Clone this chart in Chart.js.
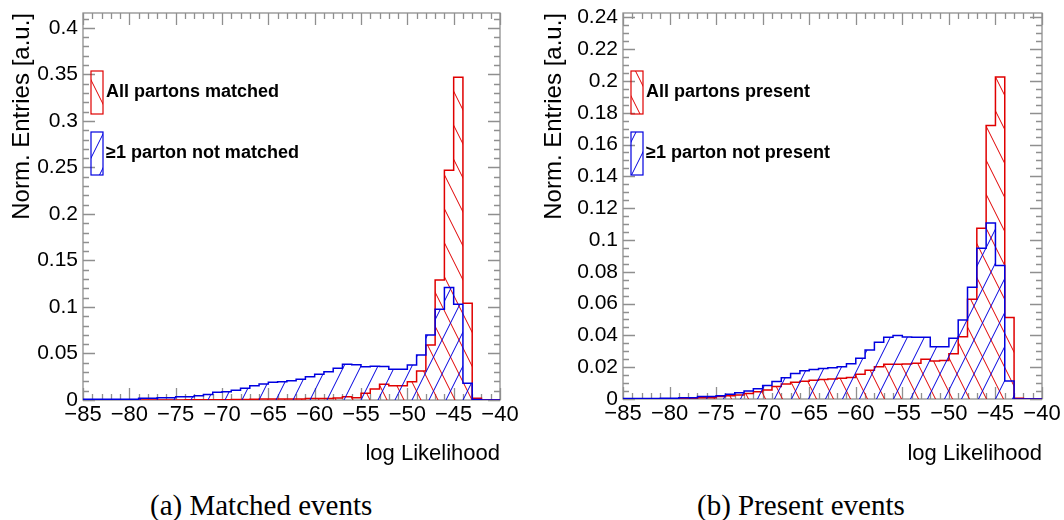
<!doctype html>
<html>
<head>
<meta charset="utf-8">
<script src="https://cdn.jsdelivr.net/npm/chart.js@4.4.1/dist/chart.umd.min.js"></script>
<style>
body { margin: 0; background: #fff; width: 1064px; height: 520px; position: relative; overflow: hidden; }
.panel { position: absolute; top: 0; width: 532px; height: 470px; }
.caption { position: absolute; font-family: "Liberation Serif", serif; font-size: 29px; line-height: 29px; white-space: nowrap; color: #000; }
</style>
</head>
<body>
<canvas id="chartA" class="panel" width="532" height="470" style="left:0px"></canvas>
<canvas id="chartB" class="panel" width="532" height="470" style="left:532px"></canvas>
<div class="caption" style="left:150px;top:491px">(a) Matched events</div>
<div class="caption" style="left:697px;top:491px">(b) Present events</div>
<script>
// histogram bin edges (log likelihood), 45 bins of width 1
const binEdges = [-85,-84,-83,-82,-81,-80,-79,-78,-77,-76,-75,-74,-73,-72,-71,-70,-69,-68,-67,-66,-65,-64,-63,-62,-61,
                  -60,-59,-58,-57,-56,-55,-54,-53,-52,-51,-50,-49,-48,-47,-46,-45,-44,-43,-42,-41,-40];

// (a) matched events
const matchedAll = [0,0,0,0,0,0,0,0,0,0,
                    0,0.0002,0.0002,0.0003,0.0003,0.0004,0.0005,0.0006,0.0008,0.001,
                    0.001,0.001,0.001,0.0012,0.0015,0.0015,0.0017,0.0022,0.0035,0.0025,
                    0.0072,0.0118,0.0168,0.0154,0.0154,0.0197,0.0312,0.0591,0.129,0.247,
                    0.347,0.104,0.002,0,0];
const matchedNot = [0.0007,0.0007,0.0007,0.0007,0.0007,0.0007,0.0018,0.0018,0.0025,0.0025,
                    0.0036,0.0036,0.0047,0.006,0.0082,0.009,0.0104,0.0125,0.0154,0.0172,
                    0.019,0.0197,0.0208,0.0222,0.0251,0.0276,0.0305,0.034,0.0383,0.0378,
                    0.0358,0.0362,0.036,0.033,0.033,0.0376,0.0484,0.0699,0.0975,0.121,
                    0.1029,0.018,0.0005,0,0];

// (b) present events
const presentAll = [0.0001,0.0001,0.0001,0.0001,0.0001,0.0001,0.0004,0.0004,0.0008,0.0008,
                    0.0015,0.002,0.0025,0.0035,0.0046,0.0057,0.0078,0.0095,0.0105,0.0112,
                    0.0118,0.0122,0.0125,0.013,0.0135,0.0155,0.018,0.0203,0.0218,0.0218,
                    0.022,0.0225,0.025,0.0239,0.0242,0.0285,0.0392,0.0627,0.1074,0.172,
                    0.2024,0.0513,0.0004,0,0];
const presentNot = [0.0003,0.0003,0.0003,0.0003,0.0005,0.0005,0.0008,0.0008,0.0015,0.0015,
                    0.002,0.003,0.004,0.005,0.0064,0.0085,0.011,0.0133,0.016,0.0177,
                    0.0185,0.0191,0.0197,0.0202,0.0222,0.0256,0.0308,0.0357,0.0388,0.04,
                    0.039,0.0388,0.0388,0.0329,0.0329,0.0382,0.0497,0.0703,0.0948,0.1106,
                    0.0839,0.0113,0,0,0];

// tick values
const xTickValues = [-85,-80,-75,-70,-65,-60,-55,-50,-45,-40];
const yTicksA = [0,0.05,0.1,0.15,0.2,0.25,0.3,0.35,0.4];
const yTicksB = [0,0.02,0.04,0.06,0.08,0.1,0.12,0.14,0.16,0.18,0.2,0.22,0.24];

const RED = '#e00000';
const BLUE = '#0000e0';

// hatch pattern, dir '/' or '\'
function makeHatch(color, dir) {
  const w = 17, h = 34;
  const c = document.createElement('canvas');
  c.width = w; c.height = h;
  const g = c.getContext('2d');
  g.strokeStyle = color;
  g.lineWidth = 1;
  g.beginPath();
  for (let k = -1; k <= 1; k++) {
    if (dir === '/') { g.moveTo(k * w, h); g.lineTo(k * w + w, 0); }
    else { g.moveTo(k * w, 0); g.lineTo(k * w + w, h); }
  }
  g.stroke();
  return g.createPattern(c, 'repeat');
}

// one point per lower bin edge, plus the closing upper edge
function toSteps(vals) {
  const pts = vals.map((v, i) => ({ x: binEdges[i], y: v }));
  pts.push({ x: binEdges[vals.length], y: vals[vals.length - 1] });
  return pts;
}

function fmt(v) {
  return String(+v.toFixed(3)).replace('-', '\u2212');
}

// ROOT style frame with inner ticks on all four sides
const rootAxes = {
  id: 'rootAxes',
  beforeDatasetsDraw(chart, args, opts) {
    const { ctx, chartArea: a } = chart;
    const x = chart.scales.x, y = chart.scales.y;
    ctx.save();
    ctx.strokeStyle = '#8f8f8f';
    ctx.lineWidth = 1.3;
    ctx.strokeRect(a.left, a.top, a.right - a.left, a.bottom - a.top);
    ctx.beginPath();
    for (let k = 0; ; k++) {
      const v = x.min + k * opts.xMinor;
      if (v > x.max + 1e-9) break;
      const px = Math.round(x.getPixelForValue(v)) + 0.5;
      const len = (k % opts.xEvery === 0) ? 12 : 6;
      ctx.moveTo(px, a.bottom); ctx.lineTo(px, a.bottom - len);
      ctx.moveTo(px, a.top); ctx.lineTo(px, a.top + len);
    }
    for (let k = 0; ; k++) {
      const v = y.min + k * opts.yMinor;
      if (v > y.max + 1e-9) break;
      const py = Math.round(y.getPixelForValue(v)) + 0.5;
      const len = (k % opts.yEvery === 0) ? 12 : 6;
      ctx.moveTo(a.left, py); ctx.lineTo(a.left + len, py);
      ctx.moveTo(a.right, py); ctx.lineTo(a.right - len, py);
    }
    ctx.stroke();
    ctx.restore();
  }
};

// legend with tall hatched boxes inside the frame
const hatchLegend = {
  id: 'hatchLegend',
  afterDraw(chart) {
    const { ctx, chartArea } = chart;
    const items = chart.data.datasets.slice().sort((p, q) => q.order - p.order);
    items.forEach((ds, i) => {
      const bx = chartArea.left + 8, by = chartArea.top + 58 + i * 61;
      ctx.save();
      ctx.fillStyle = ds.backgroundColor;
      ctx.fillRect(bx, by, 12, 43);
      ctx.strokeStyle = ds.borderColor;
      ctx.lineWidth = 1.2;
      ctx.strokeRect(bx, by, 12, 43);
      ctx.fillStyle = '#000';
      ctx.font = 'bold 18px "Liberation Sans"';
      ctx.textBaseline = 'middle';
      ctx.fillText(ds.label, bx + 15, by + 21.5);
      ctx.restore();
    });
  }
};

function makeChart(id, cfg) {
  const ctx = document.getElementById(id).getContext('2d');
  return new Chart(ctx, {
    type: 'line',
    data: {
      datasets: [
        { label: cfg.labels[0], data: toSteps(cfg.red), order: 2,
          borderColor: RED, backgroundColor: makeHatch(RED, '\\'),
          fill: 'origin', stepped: 'before', borderWidth: 1.5, pointRadius: 0 },
        { label: cfg.labels[1], data: toSteps(cfg.blue), order: 1,
          borderColor: BLUE, backgroundColor: makeHatch(BLUE, '/'),
          fill: 'origin', stepped: 'before', borderWidth: 1.5, pointRadius: 0 }
      ]
    },
    options: {
      responsive: false,
      animation: false,
      devicePixelRatio: 1,
      layout: { padding: { top: cfg.top, right: cfg.right, left: 0, bottom: 0 } },
      scales: {
        x: {
          type: 'linear', min: -85, max: -40,
          afterBuildTicks: s => { s.ticks = xTickValues.map(v => ({ value: v })); },
          afterFit: s => { s.height = cfg.xHeight; s.paddingLeft = 0; s.paddingRight = 0; },
          grid: { display: false, drawTicks: false },
          border: { display: false },
          ticks: { autoSkip: false, maxRotation: 0, padding: 2, color: '#000',
                   font: { family: 'Liberation Sans', size: 22 }, callback: v => fmt(v) },
          title: { display: true, text: 'log Likelihood', align: 'end', color: '#000',
                   font: { family: 'Liberation Sans', size: 22 }, padding: { top: 0, bottom: 3 } }
        },
        y: {
          type: 'linear', min: 0, max: cfg.ymax,
          afterBuildTicks: s => { s.ticks = cfg.yTicks.map(v => ({ value: v })); },
          afterFit: s => { s.width = cfg.yWidth; s.paddingTop = 0; s.paddingBottom = 0; },
          grid: { display: false, drawTicks: false },
          border: { display: false },
          ticks: { padding: 5, color: '#000',
                   font: { family: 'Liberation Sans', size: 21 }, callback: v => fmt(v) },
          title: { display: true, text: 'Norm. Entries [a.u.]', align: 'end', color: '#000',
                   font: { family: 'Liberation Sans', size: 24 }, padding: { top: 8, bottom: 0 } }
        }
      },
      plugins: {
        legend: { display: false },
        tooltip: { enabled: false },
        rootAxes: { xMinor: 1, xEvery: 5, yMinor: cfg.yMinor, yEvery: cfg.yEvery }
      }
    },
    plugins: [rootAxes, hatchLegend]
  });
}

makeChart('chartA', {
  labels: ['All partons matched', '\u22651 parton not matched'],
  red: matchedAll, blue: matchedNot,
  ymax: 0.416, yTicks: yTicksA, yMinor: 0.01, yEvery: 5,
  top: 13, right: 32, yWidth: 83, xHeight: 70
});
makeChart('chartB', {
  labels: ['All partons present', '\u22651 parton not present'],
  red: presentAll, blue: presentNot,
  ymax: 0.2427, yTicks: yTicksB, yMinor: 0.005, yEvery: 4,
  top: 13, right: 22, yWidth: 91, xHeight: 71
});
</script>
</body>
</html>
